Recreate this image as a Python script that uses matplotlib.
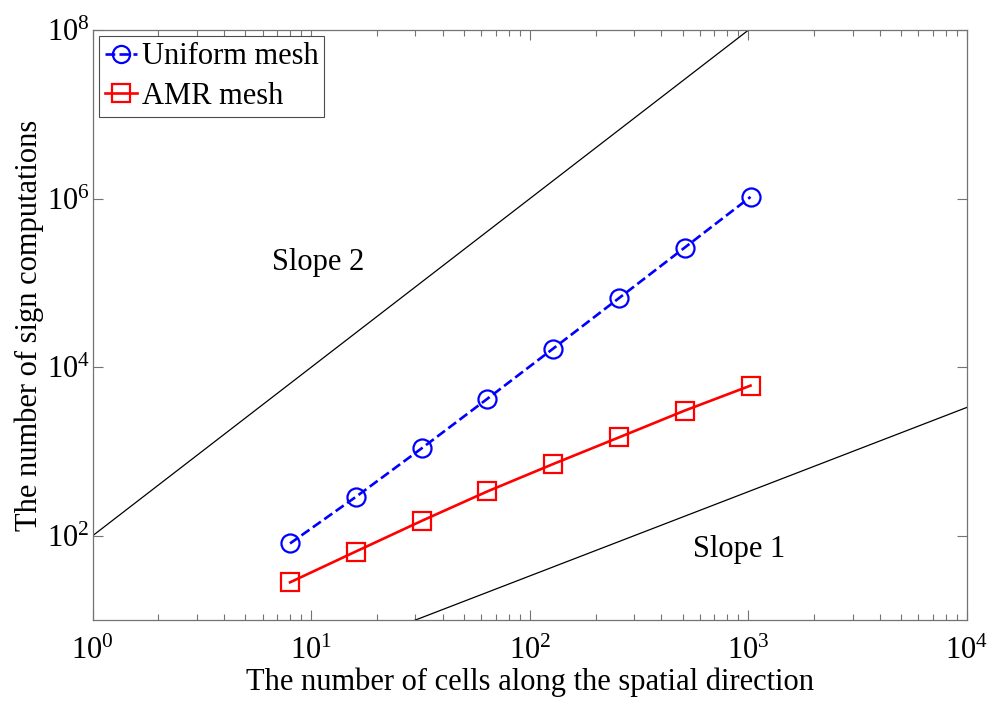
import numpy as np
import matplotlib.pyplot as plt
from matplotlib.ticker import LogLocator, NullLocator

plt.rcParams['font.family'] = ['Liberation Serif', 'DejaVu Serif']
plt.rcParams['mathtext.fontset'] = 'custom'
plt.rcParams['mathtext.rm'] = 'Liberation Serif'

# cells along the spatial direction
cells = [8, 16, 32, 64, 128, 256, 512, 1024]
# sign computations for each mesh type
uniform_counts = [81, 289, 1089, 4225, 16641, 66049, 263169, 1050625]
amr_counts = [28, 65, 150, 336, 710, 1470, 3060, 6050]

# reference slope lines
ref_x = [1, 1e4]
slope2_y = [100, 1e10]
slope1_y = [1 / 3, 1e4 / 3]

FS = 22

fig = plt.figure(figsize=(9.9, 7.02), dpi=100)
ax = fig.add_axes([0.0936, 0.1168, 0.883, 0.8402])

ax.plot(ref_x, slope2_y, color='k', lw=0.9)
ax.plot(ref_x, slope1_y, color='k', lw=0.9)

ax.plot(cells, uniform_counts, '--o', color=(0, 0, 1), lw=1.9, ms=13,
        mfc='none', mew=1.6, label='Uniform mesh')
ax.plot(cells, amr_counts, '-s', color=(1, 0, 0), lw=1.9, ms=13,
        mfc='none', mew=1.6, label='AMR mesh')

ax.set_xscale('log')
ax.set_yscale('log')
ax.set_xlim(1, 1e4)
ax.set_ylim(10, 1e8)

ax.xaxis.set_major_locator(LogLocator(base=10, numticks=10))
ax.xaxis.set_minor_locator(LogLocator(base=10, subs=np.arange(2, 10), numticks=20))
ax.set_yticks([1e2, 1e4, 1e6, 1e8])
ax.yaxis.set_minor_locator(NullLocator())

for s in ax.spines.values():
    s.set_color('0.45')
    s.set_linewidth(0.9)
ax.tick_params(which='both', direction='in', top=True, right=True,
               colors='0.45', labelcolor='k', labelsize=FS)
ax.tick_params(which='major', length=7, width=0.8)
ax.tick_params(which='minor', length=4, width=0.8)
ax.tick_params(axis='x', which='major', pad=12)
ax.tick_params(axis='y', which='major', pad=2)

ax.text(10 ** 1.03, 10 ** 5.24, 'Slope 2', fontsize=FS, ha='center', va='center')
ax.text(10 ** 2.96, 10 ** 1.84, 'Slope 1', fontsize=FS, ha='center', va='center')

ax.set_xlabel('The number of cells along the spatial direction', fontsize=FS, labelpad=1)
ax.set_ylabel('The number of sign computations', fontsize=FS, labelpad=2)

leg = ax.legend(loc='upper left', fontsize=FS, handlelength=1.05, handletextpad=0.15,
                borderpad=0.2, labelspacing=0.35, borderaxespad=0.2,
                fancybox=False, framealpha=1, markerscale=0.95)
leg.get_frame().set_edgecolor('0.3')
leg.get_frame().set_linewidth(0.8)

fig.savefig('out.png', dpi=100)
